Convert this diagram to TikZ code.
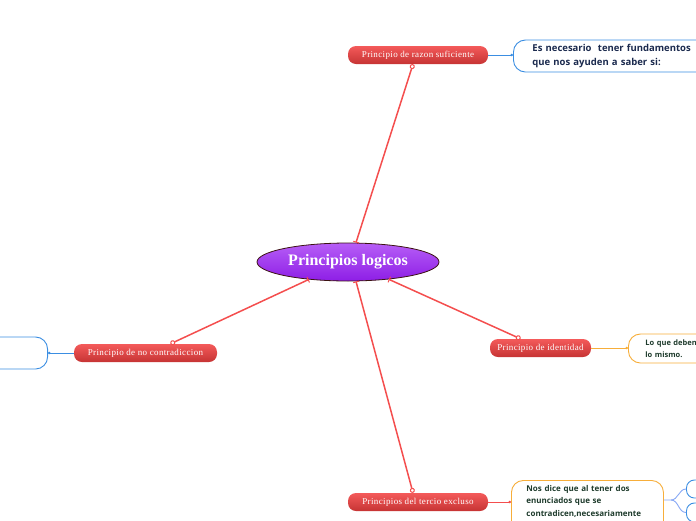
\documentclass[tikz,border=0pt]{standalone}
\usepackage{fontspec}
\setmainfont{Liberation Serif}
\newfontfamily\topicfont[LetterSpace=4]{Liberation Serif}
\newfontfamily\notefont{Open Sans}
\usetikzlibrary{arrows.meta,shapes.geometric}

\definecolor{linkred}{HTML}{F44E4E}
\definecolor{topictop}{HTML}{F45A5A}
\definecolor{topicbot}{HTML}{C63434}
\definecolor{ideatop}{HTML}{B65EF6}
\definecolor{ideabot}{HTML}{8E1EE6}
\definecolor{ideaedge}{HTML}{3C1212}
\definecolor{noteblue}{HTML}{3B8EE2}
\definecolor{noteorange}{HTML}{F7AE3A}
\definecolor{navytext}{HTML}{1B2A4E}
\definecolor{greentext}{HTML}{1E3B2C}
\definecolor{subblue}{HTML}{88A8F4}

\tikzset{
    idea/.style={ellipse, draw=ideaedge, line width=0.8pt, top color=ideatop, bottom color=ideabot,
        minimum width=182pt, minimum height=38pt, inner sep=0pt, text=white,
        font=\fontsize{16}{18}\selectfont\bfseries},
    topic/.style={rounded corners=8pt, top color=topictop, bottom color=topicbot, text=white,
        minimum width=140pt, minimum height=18pt, inner sep=0pt,
        font=\topicfont\fontsize{9}{10}\selectfont},
    note/.style={rounded corners=12pt, fill=white, line width=0.9pt, align=left},
    bluenote/.style={note, draw=noteblue},
    orangenote/.style={note, draw=noteorange},
    link/.style={linkred, line width=1.5pt, {Circle[open,length=5pt,line width=1pt]}-{Bar[width=6pt,line width=1pt]}},
    bluelink/.style={noteblue, line width=0.9pt, -{Circle[length=2.5pt]}},
    orangelink/.style={noteorange, line width=0.9pt, -{Circle[length=2.5pt]}},
    redlink/.style={linkred, line width=0.9pt, -{Circle[length=2.5pt]}},
    sublink/.style={subblue, line width=0.9pt}
}

\begin{document}
\begin{tikzpicture}[x=1pt,y=-1pt]
    \useasboundingbox (0,0) rectangle (696,520);
    \clip (0,0) rectangle (696,520);

    % main idea and topics
    \node[idea] (centre) at (348,262) {Principios logicos};
    \node[topic] (razon) at (418,55) {Principio de razon suficiente};
    \node[topic, minimum width=143pt] (contra) at (145.5,353) {Principio de no contradiccion};
    \node[topic, minimum width=101pt] (ident) at (540.5,348) {Principio de identidad};
    \node[topic] (tercio) at (418,502) {Principios del tercio excluso};

    % notes
    \node[bluenote, anchor=west, minimum height=32pt, text width=170pt, inner xsep=19pt,
        text=navytext, font=\notefont\bfseries\fontsize{9.5}{13.5}\selectfont]
        (fund) at (513,56) {Es necesario\ \ tener fundamentos\\que nos ayuden a saber si:};
    \node[bluenote, anchor=east, minimum width=90pt, minimum height=32pt] (contranote) at (48,353) {};
    \node[orangenote, anchor=west, minimum height=29pt, text width=90pt, inner xsep=17pt,
        text=greentext, font=\notefont\bfseries\fontsize{7.5}{12}\selectfont]
        (identnote) at (628,348.5) {Lo que deben\\lo mismo.};
    \node[orangenote, anchor=north west, text width=122pt, inner xsep=15pt, inner ysep=5pt,
        text=greentext, font=\notefont\bfseries\fontsize{8}{12.4}\selectfont]
        (tercionote) at (511,480) {Nos dice que al tener dos\\enunciados que se\\contradicen,necesariamente\\uno de ellos debe ser};
    \node[bluenote, rounded corners=8pt, anchor=west, minimum width=40pt, minimum height=18pt] (subA) at (686,489) {};
    \node[bluenote, rounded corners=8pt, anchor=west, minimum width=40pt, minimum height=19pt] (subB) at (686,512.5) {};

    % links to the main idea
    \draw[link] ([xshift=-5pt]razon.south) -- ([xshift=8pt]centre.north);
    \draw[link] ([xshift=25pt]contra.north) -- (centre.204);
    \draw[link] ([xshift=-20pt]ident.north) -- (centre.337);
    \draw[link] ([xshift=-5pt]tercio.north) -- ([xshift=8pt]centre.south);

    % links to the notes
    \draw[bluelink] (razon.east) -- (razon.east -| fund.west);
    \draw[bluelink] (contra.west) -- (contranote.east);
    \draw[orangelink] (ident.east) -- (ident.east -| identnote.west);
    \draw[redlink] (tercio.east) -- (tercio.east -| tercionote.west);
    \coordinate (fork) at (671,500);
    \draw[sublink] (tercionote.east |- fork) -- (fork) to[out=0,in=180] (subA.west);
    \draw[sublink] (fork) to[out=0,in=180] (subB.west);
\end{tikzpicture}
\end{document}
